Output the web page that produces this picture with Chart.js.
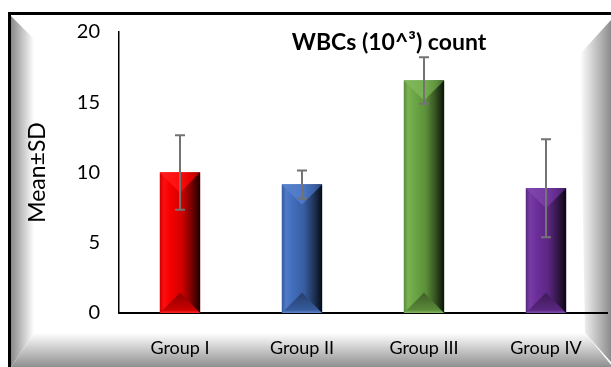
<!DOCTYPE html>
<html>
<head>
<meta charset="utf-8">
<script src="https://cdn.jsdelivr.net/npm/chart.js@4"></script>
<style>
  html, body { margin: 0; padding: 0; background: #fff; }
  #wrap { width: 611px; height: 367px; position: relative; }
</style>
</head>
<body>
<div id="wrap"><canvas id="grafico"></canvas></div>
<script>
const categories = ["Group I", "Group II", "Group III", "Group IV"];
const means = [10.0, 9.15, 16.55, 8.88];
const sds = [2.65, 1.0, 1.65, 3.48];
const yTicks = [0, 5, 10, 15, 20];
const chartTitle = "WBCs (10^\u00B3) count";
const yTitle = "Mean\u00B1SD";

const barColors = [
  [255, 0, 0],
  [68, 114, 196],
  [112, 173, 71],
  [112, 48, 160],
];

const shade = (c, f, a = 1) =>
  `rgba(${c.map((v) => Math.max(0, Math.min(255, Math.round(f > 1 ? v + (255 - v) * (f - 1) : v * f)))).join(",")},${a})`;

// frame with bevelled edges behind everything
const framePlugin = {
  id: "frame",
  beforeDraw(chart) {
    const ctx = chart.ctx;
    const W = chart.width, H = chart.height;
    ctx.save();
    ctx.fillStyle = "#fff";
    ctx.fillRect(0, 0, W, H);

    // left bevel
    let g = ctx.createLinearGradient(11, 0, 34, 0);
    g.addColorStop(0, "#8a8a8a");
    g.addColorStop(1, "#ffffff");
    ctx.fillStyle = g;
    ctx.beginPath();
    ctx.moveTo(11, 16);
    ctx.lineTo(34, 39);
    ctx.lineTo(34, 333);
    ctx.lineTo(11, H);
    ctx.closePath();
    ctx.fill();

    // right bevel
    g = ctx.createLinearGradient(580, 0, W, 0);
    g.addColorStop(0, "#ffffff");
    g.addColorStop(1, "#8c8c8c");
    ctx.fillStyle = g;
    ctx.beginPath();
    ctx.moveTo(W, 20);
    ctx.lineTo(580, 54);
    ctx.lineTo(585, 333);
    ctx.lineTo(W, 362);
    ctx.lineTo(W, H);
    ctx.closePath();
    ctx.fill();

    // bottom bevel
    g = ctx.createLinearGradient(0, 333, 0, H);
    g.addColorStop(0, "#ffffff");
    g.addColorStop(1, "#8f8f8f");
    ctx.fillStyle = g;
    ctx.beginPath();
    ctx.moveTo(34, 333);
    ctx.lineTo(585, 333);
    ctx.lineTo(W + 5, H + 4);
    ctx.lineTo(11, H);
    ctx.closePath();
    ctx.fill();

    // outer black border
    ctx.fillStyle = "#000";
    ctx.fillRect(8, 12, W - 8, 3);
    ctx.fillRect(8, 12, 3, H - 12);
    ctx.restore();
  },
};

// 3d look of the bars, error bars and the title
const barsPlugin = {
  id: "bevelBars",
  afterDatasetsDraw(chart) {
    const ctx = chart.ctx;
    const meta = chart.getDatasetMeta(0);
    const yScale = chart.scales.y;
    ctx.save();
    meta.data.forEach((bar, i) => {
      const c = barColors[i];
      const x0 = bar.x - bar.width / 2, x1 = bar.x + bar.width / 2;
      const top = bar.y, base = bar.base, w = bar.width;
      let g = ctx.createLinearGradient(x0, 0, x1, 0);
      g.addColorStop(0, shade(c, 0.8));
      g.addColorStop(0.1, shade(c, 1.06));
      g.addColorStop(0.25, shade(c, 0.97));
      g.addColorStop(0.55, shade(c, 0.82));
      g.addColorStop(0.8, shade(c, 0.45));
      g.addColorStop(1, shade(c, 0.1));
      ctx.fillStyle = g;
      ctx.fillRect(x0, top, w, base - top);

      const tri = w / 2;
      // top facet
      ctx.beginPath();
      ctx.moveTo(x0, top);
      ctx.lineTo(x1, top);
      ctx.lineTo(bar.x, top + tri);
      ctx.closePath();
      g = ctx.createLinearGradient(x0, 0, x1, 0);
      g.addColorStop(0, shade(c, 1.12));
      g.addColorStop(0.5, shade(c, 1.05));
      g.addColorStop(0.8, shade(c, 0.85));
      g.addColorStop(1, shade(c, 0.6));
      ctx.fillStyle = g;
      ctx.fill();

      // bottom facet
      ctx.beginPath();
      ctx.moveTo(x0, base);
      ctx.lineTo(x1, base);
      ctx.lineTo(bar.x, base - tri);
      ctx.closePath();
      g = ctx.createLinearGradient(0, base - tri, 0, base);
      g.addColorStop(0, shade(c, 0.55));
      g.addColorStop(0.85, shade(c, 0.8));
      g.addColorStop(1, shade(c, 1.15));
      ctx.fillStyle = g;
      ctx.fill();

      // error bar
      const yHi = yScale.getPixelForValue(means[i] + sds[i]);
      const yLo = yScale.getPixelForValue(means[i] - sds[i]);
      ctx.strokeStyle = "#737373";
      ctx.lineWidth = 2;
      ctx.beginPath();
      ctx.moveTo(bar.x, yHi);
      ctx.lineTo(bar.x, yLo);
      ctx.moveTo(bar.x - 5, yHi);
      ctx.lineTo(bar.x + 5, yHi);
      ctx.moveTo(bar.x - 5, yLo);
      ctx.lineTo(bar.x + 5, yLo);
      ctx.stroke();
    });

    const area = chart.chartArea;
    ctx.fillStyle = "#000";
    ctx.font = "bold 23px Lato";
    ctx.textAlign = "center";
    ctx.textBaseline = "middle";
    ctx.fillText(chartTitle, (area.left + area.right) / 2 + 26, area.top + 11);
    ctx.restore();
  },
};

const ctx = document.getElementById("grafico").getContext("2d");
new Chart(ctx, {
  type: "bar",
  data: {
    labels: categories,
    datasets: [
      {
        label: "Mean",
        data: means,
        backgroundColor: barColors.map((c) => shade(c, 1)),
        borderWidth: 0,
        barPercentage: 0.33,
        categoryPercentage: 1,
      },
    ],
  },
  options: {
    responsive: true,
    maintainAspectRatio: false,
    animation: false,
    layout: { padding: { left: 22, top: 32, right: 4, bottom: 0 } },
    plugins: {
      legend: { display: false },
      title: { display: false },
      tooltip: { enabled: false },
    },
    scales: {
      x: {
        grid: { display: false },
        border: { color: "#000", width: 2 },
        ticks: { color: "#000", font: { family: "Lato", size: 18 }, padding: 16 },
        afterFit: (scale) => { scale.height = 54; },
      },
      y: {
        min: 0,
        max: 20,
        afterBuildTicks: (scale) => { scale.ticks = yTicks.map((v) => ({ value: v })); },
        grid: { display: false },
        border: { color: "#000", width: 1.5 },
        ticks: { color: "#000", font: { family: "Lato", size: 20 }, padding: 11 },
        title: {
          display: true,
          text: yTitle,
          color: "#000",
          font: { family: "Lato", size: 23 },
          padding: { top: 2, bottom: 0 },
        },
        afterFit: (scale) => { scale.width = 97; },
      },
    },
  },
  plugins: [framePlugin, barsPlugin],
});
</script>
</body>
</html>
